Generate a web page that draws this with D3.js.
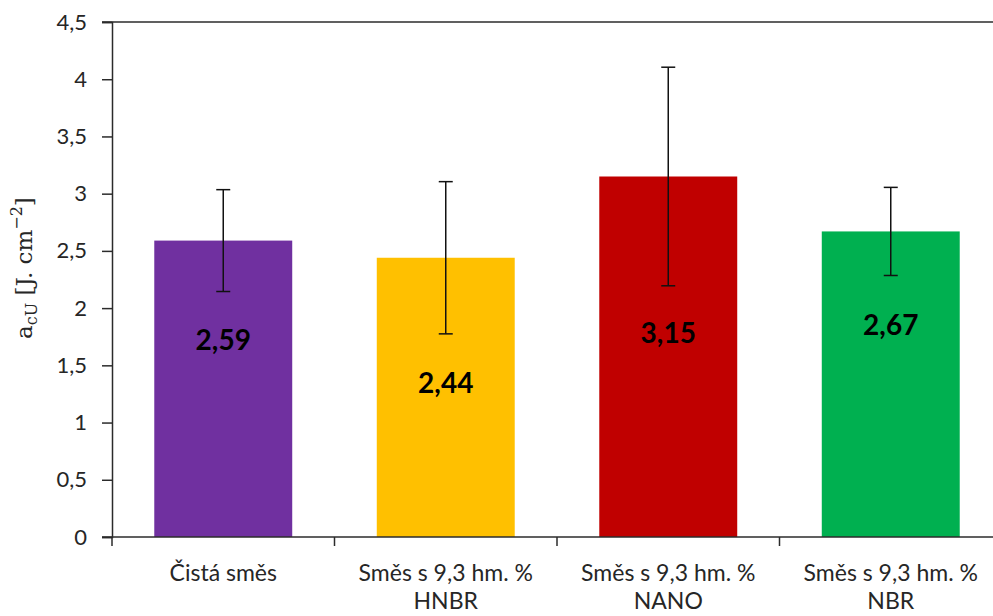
<!DOCTYPE html>
<html>
<head>
<meta charset="utf-8">
<script src="https://cdn.jsdelivr.net/npm/d3@7"></script>
<style>
  html, body { margin: 0; padding: 0; background: #fff; }
  svg { display: block; }
</style>
</head>
<body>
<svg id="chart" width="993" height="616"></svg>
<script>
// Impact strength of the blends (mean with standard deviation)
const categories = ["Čistá směs", "Směs s 9,3 hm. %\nHNBR", "Směs s 9,3 hm. %\nNANO", "Směs s 9,3 hm. %\nNBR"];
const values = [2.59, 2.44, 3.15, 2.67];
const errors = [0.445, 0.665, 0.955, 0.385];
const labelHeights = [1.72, 1.35, 1.78, 1.85]; // where each value label sits, in axis units
const colors = ["#7030A0", "#FFC000", "#C00000", "#00B050"];
const yTicks = [0, 0.5, 1, 1.5, 2, 2.5, 3, 3.5, 4, 4.5];

const svg = d3.select("#chart");
const margin = { left: 112, top: 22, right: -9, bottom: 79 };
const W = 993, H = 616;

const x = d3.scaleBand()
  .domain(categories)
  .range([margin.left, W - margin.right])
  .paddingInner(0.38)
  .paddingOuter(0.19);

const y = d3.scaleLinear()
  .domain([0, 4.5])
  .range([H - margin.bottom, margin.top]);

const fmt = v => String(v).replace(".", ",");
const axisColor = "#2b2b2b";
const textColor = "#262626";
const font = "Lato, 'Open Sans', 'Liberation Sans', sans-serif";

// top border of the plot area
svg.append("line")
  .attr("x1", margin.left - 10).attr("x2", W)
  .attr("y1", y(4.5)).attr("y2", y(4.5))
  .attr("stroke", axisColor).attr("stroke-width", 1.5);

// bars
const data = categories.map((c, i) => ({ c, v: values[i], e: errors[i], lh: labelHeights[i], col: colors[i] }));

svg.append("g").selectAll("rect").data(data).join("rect")
  .attr("x", d => x(d.c))
  .attr("width", x.bandwidth())
  .attr("y", d => y(d.v))
  .attr("height", d => y(0) - y(d.v))
  .attr("fill", d => d.col);

// error bars
const eb = svg.append("g").attr("stroke", "#111").attr("stroke-width", 1.5);
data.forEach(d => {
  const cx = x(d.c) + x.bandwidth() / 2;
  eb.append("line").attr("x1", cx).attr("x2", cx).attr("y1", y(d.v + d.e)).attr("y2", y(d.v - d.e));
  eb.append("line").attr("x1", cx - 7).attr("x2", cx + 7).attr("y1", y(d.v + d.e)).attr("y2", y(d.v + d.e));
  eb.append("line").attr("x1", cx - 7).attr("x2", cx + 7).attr("y1", y(d.v - d.e)).attr("y2", y(d.v - d.e));
});

// value labels
svg.append("g").selectAll("text").data(data).join("text")
  .attr("x", d => x(d.c) + x.bandwidth() / 2)
  .attr("y", d => y(d.lh))
  .attr("dy", "0.36em")
  .attr("text-anchor", "middle")
  .attr("font-family", font)
  .attr("font-weight", "bold")
  .attr("font-size", 28)
  .attr("fill", "#000")
  .text(d => fmt(d.v));

// y axis
const yAxis = svg.append("g")
  .attr("transform", `translate(${margin.left},0)`)
  .call(d3.axisLeft(y).tickValues(yTicks).tickFormat(fmt).tickSizeOuter(0).tickSize(10).tickPadding(15));
yAxis.select(".domain").attr("stroke", axisColor).attr("stroke-width", 1.5);
yAxis.selectAll(".tick line").attr("stroke", axisColor).attr("stroke-width", 1.5);
yAxis.selectAll(".tick text")
  .attr("font-family", font).attr("font-size", 22).attr("fill", textColor);

// x axis with ticks between categories
const xAxisG = svg.append("g").attr("transform", `translate(0,${y(0)})`);
xAxisG.append("line")
  .attr("x1", margin.left - 10).attr("x2", W)
  .attr("y1", 0).attr("y2", 0)
  .attr("stroke", axisColor).attr("stroke-width", 1.5);
const step = x.step();
const bounds = categories.map((c, i) => x(c) - x.paddingInner() * step / 2 - (i === 0 ? (x.paddingOuter() - x.paddingInner() / 2) * step : 0));
bounds.forEach(bx => {
  xAxisG.append("line").attr("x1", bx).attr("x2", bx).attr("y1", 0).attr("y2", 9)
    .attr("stroke", axisColor).attr("stroke-width", 1.5);
});

const labels = xAxisG.selectAll("text.cat").data(categories).join("text")
  .attr("class", "cat")
  .attr("x", d => x(d) + x.bandwidth() / 2)
  .attr("y", 44)
  .attr("text-anchor", "middle")
  .attr("font-family", font)
  .attr("font-size", 23)
  .attr("fill", textColor);
labels.each(function (d) {
  const lines = d.split("\n");
  const t = d3.select(this);
  lines.forEach((ln, i) => {
    t.append("tspan").attr("x", x(d) + x.bandwidth() / 2).attr("dy", i === 0 ? 0 : 28).text(ln);
  });
});

// y axis title: a_cU [J.cm^-2]
const title = svg.append("text")
  .attr("transform", `translate(32,${y(2.35)}) rotate(-90)`)
  .attr("text-anchor", "middle")
  .attr("font-family", "'DejaVu Serif', 'Liberation Serif', serif")
  .attr("font-size", 23)
  .attr("fill", textColor);
title.append("tspan").text("a");
title.append("tspan").attr("font-size", 16).attr("dy", 5).text("cU");
title.append("tspan").attr("dy", -5).text(" [J. cm");
title.append("tspan").attr("font-size", 16).attr("dy", -10).text("−2");
title.append("tspan").attr("dy", 10).text("]");
</script>
</body>
</html>
